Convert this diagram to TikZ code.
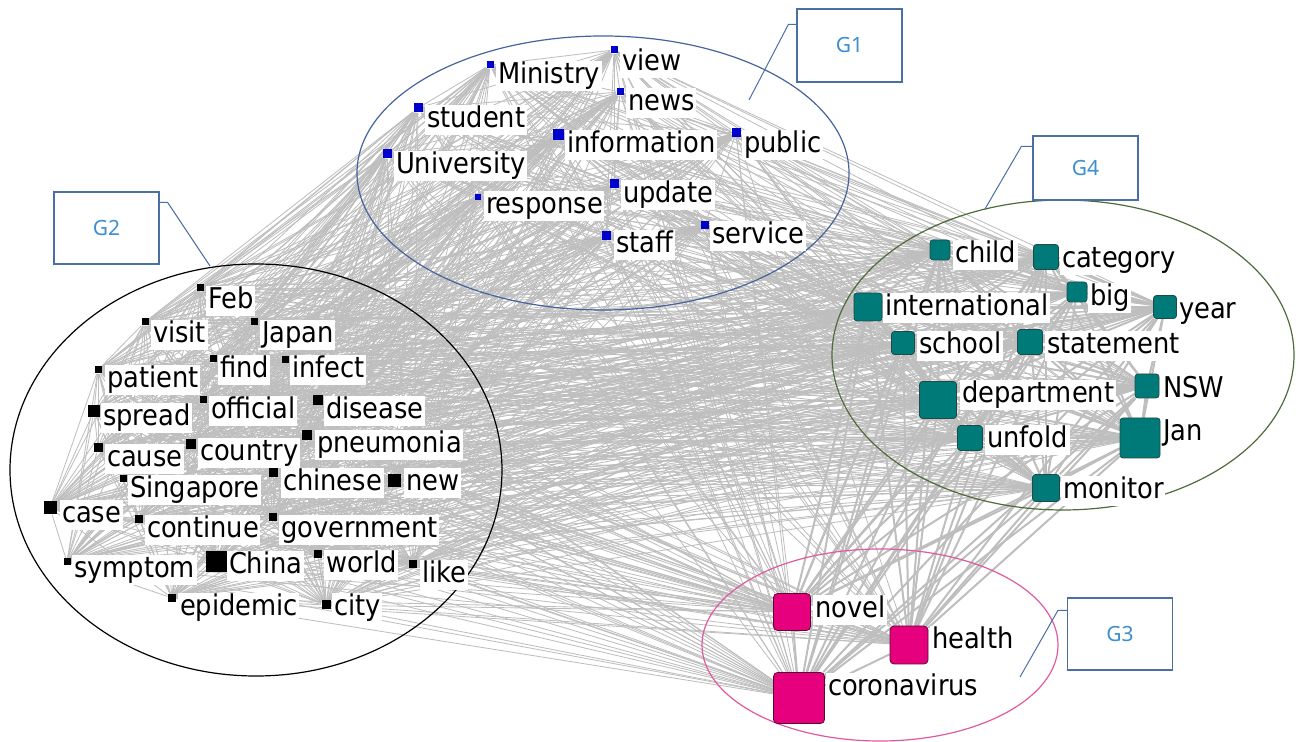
\documentclass[tikz,border=0pt]{standalone}
\usepackage{fontspec}
\usetikzlibrary{shapes.geometric}
\newfontfamily\lblfont{DejaVu Sans Condensed}
\newfontfamily\grpfont{Noto Sans}
\pgfdeclarelayer{bg}
\pgfsetlayers{bg,main}
\definecolor{edgegray}{HTML}{BEBEBE}
\definecolor{gone}{HTML}{0000CC}
\definecolor{teal4}{HTML}{007A78}
\definecolor{tealdk}{HTML}{1F4A45}
\definecolor{pink3}{HTML}{E6007E}
\definecolor{pinkdk}{HTML}{5A0A30}
\definecolor{ellone}{HTML}{46639B}
\definecolor{ellfour}{HTML}{4F6B3B}
\definecolor{ellthree}{HTML}{E05A9E}
\definecolor{boxblue}{HTML}{4A6FA5}
\definecolor{gtext}{HTML}{3D8FD1}
\tikzset{
  lbl/.style={fill=white, inner sep=0.8pt, anchor=west, font=\lblfont\fontsize{14.3}{14.3}\selectfont, text height=10.6pt, text depth=3.2pt},
  sqa/.style={fill=gone, inner sep=0pt, minimum size=#1},
  sqb/.style={fill=black, inner sep=0pt, minimum size=#1},
  sqd/.style={fill=teal4, draw=tealdk, line width=0.4pt, rounded corners=1.5pt, inner sep=0pt, minimum size=#1},
  sqc/.style={fill=pink3, draw=pinkdk, line width=0.4pt, rounded corners=2pt, inner sep=0pt, minimum size=#1},
  lnk/.style={draw=edgegray, line width=0.42pt},
  lnkheavy/.style={draw=edgegray, line width=1pt},
  grpell/.style={line width=0.6pt},
  gbox/.style={draw=boxblue, fill=white, line width=0.6pt, inner sep=0pt, minimum width=52.5pt, text=gtext, font=\grpfont\fontsize{10.5}{10.5}\selectfont},
  callout/.style={draw=boxblue, line width=0.5pt}
}
\begin{document}
\begin{tikzpicture}[x=0.5pt,y=-0.5pt]
\useasboundingbox (0,0) rectangle (1296,742);
% group ellipses
\draw[grpell, draw=ellone] (603,173) ellipse [x radius=123pt, y radius=68.5pt];
\draw[grpell, draw=black] (256,470) ellipse [x radius=123pt, y radius=103pt];
\draw[grpell, draw=ellfour] (1063,355) ellipse [x radius=115.5pt, y radius=77.5pt];
\draw[grpell, draw=ellthree] (880,645) ellipse [x radius=89pt, y radius=48pt];
% G1
\foreach \n/\sx/\sy/\s/\t/\tx/\ty in {
 a1/614/50/3.5/view/622/63,
 a2/490/65/3.5/Ministry/498/76,
 a3/620/92/3.5/news/628/103,
 a4/418/108/4.5/student/427/120,
 a5/558/135/5.5/information/567/145,
 a6/736/133/4.5/public/744/145,
 a7/387/154/4.5/University/396/166,
 a8/614/184/4.5/update/623/195,
 a9/478/197/3/response/486/206,
 a10/705/225/4/service/712/236,
 a11/606/236/4.5/staff/616/245}{
  \node[lbl] (l\n) at (\tx-2,\ty) {\t};
  \node[sqa=\s pt] (\n) at (\sx,\sy) {};
}
% G2
\foreach \n/\sx/\sy/\s/\t/\tx/\ty in {
 b1/200/288/3.5/Feb/208/301,
 b2/145/322/3.5/visit/153/335,
 b3/254/322/3.5/Japan/262/335,
 b4/213/359/3.5/find/220/370,
 b5/285/360/3.5/infect/292/370,
 b6/98/370/3.5/patient/107/380,
 b7/94/411/6/spread/103/418,
 b8/203/400/3.5/official/211/411,
 b9/318/400/5/disease/326/411,
 b10/98/448/4.5/cause/107/459,
 b11/191/444/5/country/200/453,
 b12/307/435/5/pneumonia/317/445,
 b13/123/479/3.5/Singapore/130/490,
 b14/273/473/4.5/chinese/283/483,
 b15/394/481/6.5/new/406/483,
 b16/50/508/6.5/case/62/515,
 b17/139/519/4/continue/147/530,
 b18/273/517/4/government/281/530,
 b19/67/562/3.5/symptom/74/570,
 b20/216/562/10.5/China/229/566,
 b21/318/554/4/world/326/565,
 b22/413/564/4/like/422/575,
 b23/172/598/4/epidemic/180/608,
 b24/326/605/4.5/city/334/608}{
  \node[lbl] (l\n) at (\tx-2,\ty) {\t};
  \node[sqb=\s pt] (\n) at (\sx,\sy) {};
}
% G4
\foreach \n/\sx/\sy/\s/\t/\tx/\ty in {
 d1/940/250/10/child/955/255,
 d2/1046/257/12.5/category/1062/260,
 d3/868/307/14/international/885/308,
 d4/1077/292/10/big/1090/298,
 d5/1165/307/11.5/year/1179/311,
 d6/903/343/11.5/school/919/346,
 d7/1030/342/12.5/statement/1047/346,
 d8/938/400/18.5/department/962/395,
 d9/1147/386/12/NSW/1163/390,
 d10/970/438/12.5/unfold/987/440,
 d11/1140/438/20/Jan/1163/433,
 d12/1046/488/13.5/monitor/1063/491}{
  \node[lbl] (l\n) at (\tx-2,\ty) {\t};
  \node[sqd=\s pt] (\n) at (\sx,\sy) {};
}
% G3
\foreach \n/\sx/\sy/\s/\t/\tx/\ty in {
 c1/792/612/18.5/novel/815/610,
 c2/909/645/19/health/932/641,
 c3/799/698/25.5/coronavirus/828/688}{
  \node[lbl] (l\n) at (\tx-2,\ty) {\t};
  \node[sqc=\s pt] (\n) at (\sx,\sy) {};
}
% edges
\def\allnodes{a1,a2,a3,a4,a5,a6,a7,a8,a9,a10,a11,b1,b2,b3,b4,b5,b6,b7,b8,b9,b10,b11,b12,b13,b14,b15,b16,b17,b18,b19,b20,b21,b22,b23,b24,d1,d2,d3,d4,d5,d6,d7,d8,d9,d10,d11,d12,c1,c2,c3}
\def\bignodes{d1,d2,d3,d4,d5,d6,d7,d8,d9,d10,d11,d12,c1,c2,c3}
\begin{pgfonlayer}{bg}
\foreach \p [count=\i] in \allnodes {
  \foreach \q [count=\j] in \allnodes {
    \ifnum\j>\i \draw[lnk] (\p) -- (\q);\fi
  }
}
\foreach \p [count=\i] in \bignodes {
  \foreach \q [count=\j] in \bignodes {
    \ifnum\j>\i \draw[lnkheavy] (\p) -- (\q);\fi
  }
}
\end{pgfonlayer}
% group label boxes and callouts
\node[gbox, minimum height=36.5pt] (g1box) at (849.5,45.5) {G1};
\node[gbox, minimum height=36pt] (g2box) at (106.5,228) {G2};
\node[gbox, minimum height=32pt] (g4box) at (1085.5,168) {G4};
\node[gbox, minimum height=36pt] (g3box) at (1120,634) {G3};
\coordinate (g1tip) at (749,100);
\coordinate (g2tip) at (210,266);
\coordinate (g4tip) at (985,209);
\coordinate (g3tip) at (1020,677);
\draw[callout] ([yshift=-8pt]g1box.north west) -- ++(-4pt,0) -- (g1tip);
\draw[callout] ([yshift=-5.5pt]g2box.north east) -- ++(4pt,0) -- (g2tip);
\draw[callout] ([yshift=-5.5pt]g4box.north west) -- ++(-5.5pt,0) -- (g4tip);
\draw[callout] ([yshift=-6.5pt]g3box.north west) -- ++(-4.5pt,0) -- (g3tip);
\end{tikzpicture}
\end{document}
